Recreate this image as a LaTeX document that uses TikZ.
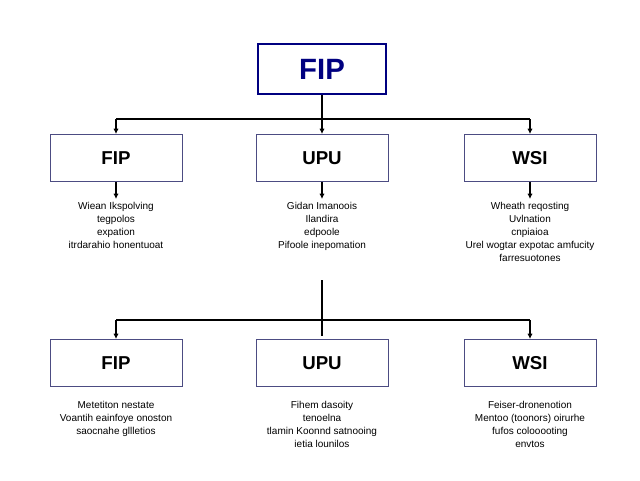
\documentclass[tikz,border=0pt]{standalone}
\usepackage{fontspec}
\setmainfont{Liberation Sans}
\usetikzlibrary{arrows.meta}
\begin{document}
\begin{tikzpicture}[x=0.75pt,y=-0.75pt,
 box/.style={draw=blue!30!black!70,line width=0.7pt,minimum width=132*0.75pt,minimum height=47*0.75pt,inner sep=0pt,font=\fontsize{14}{16}\selectfont\bfseries},
 top/.style={draw=blue!50!black,line width=1.5pt,minimum width=128*0.75pt,minimum height=50*0.75pt,inner sep=0pt,text=blue!50!black,font=\fontsize{22}{24}\selectfont\bfseries},
 desc/.style={align=center,font=\fontsize{7.5}{9.75}\selectfont,inner sep=0pt,anchor=north},
 ln/.style={line width=1pt},
 arr/.style={ln,-{Latex[length=4pt,width=4pt]}}]
\useasboundingbox (0,0) rectangle (640,480);
\node[top] (t) at (322,69) {FIP};
\node[box] (a1) at (116,158) {FIP};
\node[box] (b1) at (322,158) {UPU};
\node[box] (c1) at (530,158) {WSI};
\node[box] (a2) at (116,363) {FIP};
\node[box] (b2) at (322,363) {UPU};
\node[box] (c2) at (530,363) {WSI};
\coordinate (j1) at (322,119);
\coordinate (l1) at (116,119);
\coordinate (r1) at (530,119);
\draw[ln] (t.south) -- (j1);
\draw[ln] (l1) -- (r1);
\draw[arr] (l1) -- (a1.north);
\draw[arr] (j1) -- (b1.north);
\draw[arr] (r1) -- (c1.north);
\coordinate (ad) at (116,199); \coordinate (bd) at (322,199); \coordinate (cd) at (530,199);
\draw[arr] (a1.south) -- (ad);
\draw[arr] (b1.south) -- (bd);
\draw[arr] (c1.south) -- (cd);
\node[desc] (ta) at (116,202) {Wiean Ikspolving\\ tegpolos\\ expation\\ itrdarahio honentuoat};
\node[desc] (tb) at (322,202) {Gidan Imanoois\\ Ilandira\\ edpoole\\ Pifoole inepomation};
\node[desc] (tc) at (530,202) {Wheath reqosting\\ Uvlnation\\ cnpiaioa\\ Urel wogtar expotac amfucity\\ farresuotones};
\coordinate (v0) at (322,280);
\coordinate (v1) at (322,336);
\coordinate (l2) at (116,320);
\coordinate (r2) at (530,320);
\draw[ln] (v0) -- (v1);
\draw[ln] (l2) -- (r2);
\draw[arr] (l2) -- (a2.north);
\draw[arr] (r2) -- (c2.north);
\node[desc] (ua) at (116,401) {Metetiton nestate\\ Voantih eainfoye onoston\\ saocnahe gllletios};
\node[desc] (ub) at (322,401) {Fihem dasoity\\ tenoelna\\ tlamin Koonnd satnooing\\ ietia lounilos};
\node[desc] (uc) at (530,401) {Feiser-dronenotion\\ Mentoo (toonors) oirurhe\\ fufos colooooting\\ envtos};
\end{tikzpicture}
\end{document}
